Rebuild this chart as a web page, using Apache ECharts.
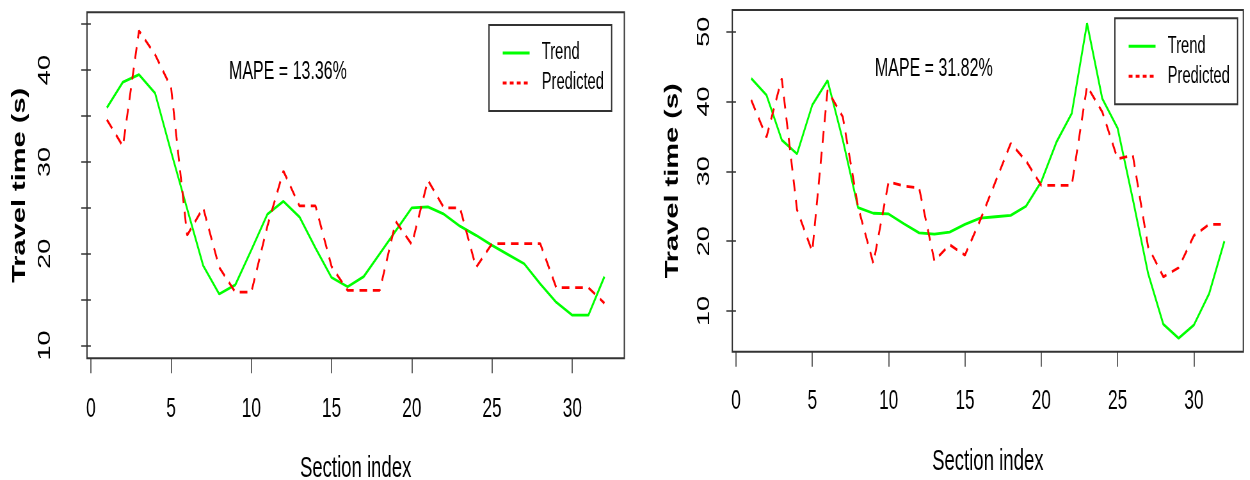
<!DOCTYPE html>
<html><head><meta charset="utf-8">
<script src="https://cdn.jsdelivr.net/npm/echarts@6/dist/echarts.min.js"></script>
<style>
html,body{margin:0;padding:0;background:#fff;overflow:hidden;width:1250px;height:480px;}
#wrap{width:1250px;height:480px;overflow:hidden;position:relative;}
#chart{width:1953px;height:480px;transform:scaleX(0.64);transform-origin:0 0;position:absolute;left:0;top:0;}
</style></head><body><div id="wrap"><div id="chart"></div></div>
<script>
const sections = [1,2,3,4,5,6,7,8,9,10,11,12,13,14,15,16,17,18,19,20,21,22,23,24,25,26,27,28,29,30,31,32];
const leftTrend = [35.9,38.7,39.5,37.5,31.1,24.9,18.7,15.6,16.6,20.4,24.3,25.7,24.0,20.6,17.4,16.4,17.5,20.0,22.5,25.0,25.1,24.3,23.0,22.0,20.9,19.9,18.9,16.7,14.7,13.3,13.3,17.5];
const leftPredicted = [34.6,31.7,44.3,41.7,38.1,22.0,25.0,18.5,15.8,15.8,23.0,29.0,25.2,25.2,18.6,16.0,16.0,16.0,23.5,21.0,28.0,25.0,25.0,18.5,21.1,21.1,21.1,21.1,16.3,16.3,16.3,14.6];
const rightTrend = [43.3,40.9,34.5,32.5,39.5,43.0,34.5,24.8,24.0,23.9,22.5,21.2,21.0,21.3,22.4,23.3,23.5,23.7,25.0,28.5,34.2,38.3,51.2,40.4,36.2,26.0,15.4,8.1,6.1,8.0,12.5,20.0];
const rightPredicted = [40.2,34.9,43.3,24.5,18.5,41.6,37.8,24.9,16.8,28.5,27.9,27.6,17.2,19.5,18.0,23.0,28.5,34.0,31.5,28.0,28.0,28.0,42.2,38.5,31.8,32.3,19.2,14.9,16.2,20.8,22.4,22.4];
const xTicks = [0,5,10,15,20,25,30];
const leftYTicks = [10,15,20,25,30,35,40,45];
const leftYLabels = [10,20,30,40];
const rightYTicks = [10,20,30,40,50];
const rightYLabels = [10,20,30,40,50];
const seriesNames = ['Trend','Predicted'];
const mapeTexts = ['MAPE = 13.36%','MAPE = 31.82%'];
const xTitle = 'Section index';
const yTitle = 'Travel time (s)';

const pairs = (ys) => sections.map((x,i)=>[x, ys[i]]);
const FONT = '"Liberation Sans", Arial, sans-serif';
const GREEN = '#00ff00', RED = '#ff0000', FRAME = '#333';

function xAxis(gi, margin, nameGap){
  return {gridIndex:gi,type:'value',min:-0.24,max:33.24,
    axisLine:{show:false},splitLine:{show:false},
    axisTick:{show:true,customValues:xTicks,length:15,lineStyle:{color:FRAME,width:1.5}},
    axisLabel:{customValues:xTicks,fontSize:27,fontFamily:FONT,color:'#000',margin:margin},
    name:xTitle,nameLocation:'middle',nameGap:nameGap,
    nameTextStyle:{fontSize:29,fontFamily:FONT,color:'#000'}};
}
function yAxis(gi,min,max,ticks,labels,margin,nameGap){
  return {gridIndex:gi,type:'value',min:min,max:max,
    axisLine:{show:false},splitLine:{show:false},
    axisTick:{show:true,customValues:ticks,length:15,lineStyle:{color:FRAME,width:1.5}},
    axisLabel:{customValues:labels,fontSize:27,fontFamily:FONT,color:'#000',rotate:90,margin:margin},
    name:yTitle,nameLocation:'middle',nameGap:nameGap,nameRotate:90,
    nameTextStyle:{fontSize:29,fontWeight:'bold',fontFamily:FONT,color:'#000'}};
}
function legend(left,top){
  return {orient:'vertical',left:left,top:top,
    data:[{name:seriesNames[0],lineStyle:{color:GREEN,width:3,type:'solid'},itemStyle:{opacity:0}},
          {name:seriesNames[1],lineStyle:{color:RED,width:3,type:[6,5]},itemStyle:{opacity:0}}],
    itemWidth:42,itemHeight:14,itemGap:6,
    padding:[16,12,16,20],borderColor:FRAME,borderWidth:2,backgroundColor:'#fff',
    selectedMode:false,
    textStyle:{fontSize:23,fontFamily:FONT,color:'#000',lineHeight:24,padding:[0,0,0,14]}};
}
function line(name,data,xi,color,dashed){
  return {name:name,type:'line',xAxisIndex:xi,yAxisIndex:xi,data:data,symbol:'none',
    lineStyle:{color:color,width:2.8,type:dashed?[12,9]:'solid'},itemStyle:{color:color},
    z: dashed?3:2};
}

const chart = echarts.init(document.getElementById('chart'),null,{renderer:'canvas'});
chart.setOption({
  animation:false,backgroundColor:'#fff',
  grid:[
    {left:135.9,top:12.3,width:839.6,height:346,show:true,borderColor:FRAME,borderWidth:2,backgroundColor:'transparent',containLabel:false,outerBoundsMode:'none'},
    {left:1144.2,top:10,width:798.5,height:341.7,show:true,borderColor:FRAME,borderWidth:2,backgroundColor:'transparent',containLabel:false,outerBoundsMode:'none'}
  ],
  xAxis:[xAxis(0,38,96),xAxis(1,36,96)],
  yAxis:[yAxis(0,8.6,46.3,leftYTicks,leftYLabels,52,90),
         yAxis(1,4.18,53.1,rightYTicks,rightYLabels,30,79)],
  legend:[legend(764,25),legend(1742,18.3)],
  series:[
    line(seriesNames[0],pairs(leftTrend),0,GREEN,false),
    line(seriesNames[1],pairs(leftPredicted),0,RED,true),
    line(seriesNames[0],pairs(rightTrend),1,GREEN,false),
    line(seriesNames[1],pairs(rightPredicted),1,RED,true)
  ],
  graphic:[
    {type:'text',left:357.8,top:60,style:{text:mapeTexts[0],font:'25px '+FONT,fill:'#000'}},
    {type:'text',left:1367,top:56.7,style:{text:mapeTexts[1],font:'25px '+FONT,fill:'#000'}}
  ]
});
</script></body></html>
